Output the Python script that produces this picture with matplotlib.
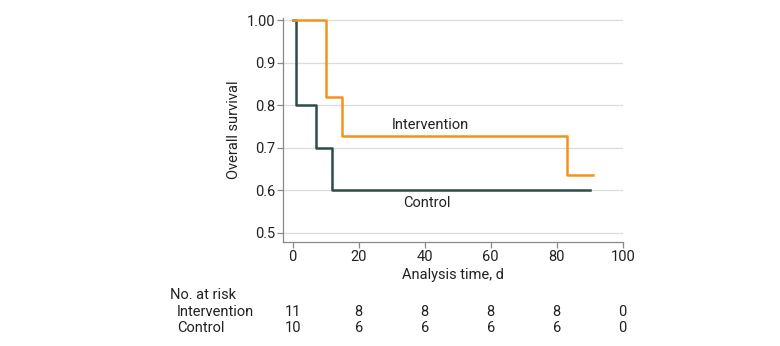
import matplotlib
matplotlib.use("Agg")
import matplotlib.pyplot as plt
import matplotlib.transforms as mtransforms

plt.rcParams['font.family'] = ['Roboto', 'DejaVu Sans']

# Kaplan-Meier steps
int_time = [0, 10, 15, 83, 91]
int_surv = [1.0, 0.818, 0.727, 0.636, 0.636]
ctl_time = [0, 1, 7, 12, 90]
ctl_surv = [1.0, 0.8, 0.7, 0.6, 0.6]

risk_times = [0, 20, 40, 60, 80, 100]
risk_int = [11, 8, 8, 8, 8, 0]
risk_ctl = [10, 6, 6, 6, 6, 0]

orange = '#F5921E'
dark = '#2C4C4A'
txt = '#222222'
fs = 10.5

fig = plt.figure(figsize=(7.8, 3.46), dpi=100)
ax = fig.add_axes([283.3/780, 1-242/346, (622.7-283.3)/780, (242-18)/346])
ax.set_xlim(-2.85, 100)
ax.set_ylim(0.478, 1.005)

for y in [0.5, 0.6, 0.7, 0.8, 0.9, 1.0]:
    ax.axhline(y, color='#dcdcdc', lw=0.9, zorder=0)

ax.step(int_time, int_surv, where='post', color=orange, lw=1.8, zorder=3)
ax.step(ctl_time, ctl_surv, where='post', color=dark, lw=1.8, zorder=2)

ax.text(41.6, 0.753, 'Intervention', ha='center', va='center', fontsize=fs, color=txt)
ax.text(40.6, 0.570, 'Control', ha='center', va='center', fontsize=fs, color=txt)

for s in ['top', 'right']:
    ax.spines[s].set_visible(False)
for s in ['left', 'bottom']:
    ax.spines[s].set_color('#888888')
    ax.spines[s].set_linewidth(0.9)

ax.set_xticks([0, 20, 40, 60, 80, 100])
ax.set_yticks([0.5, 0.6, 0.7, 0.8, 0.9, 1.0])
ax.set_yticklabels(['0.5', '0.6', '0.7', '0.8', '0.9', '1.00'])
ax.tick_params(axis='both', colors='#888888', labelcolor=txt, labelsize=fs, length=4, width=0.9, pad=2)
ax.set_xlabel('Analysis time, d', fontsize=fs, color=txt, labelpad=3)
ax.set_ylabel('Overall survival', fontsize=fs, color=txt, labelpad=4)

# risk table
fig.text(170/780, 1-295/346, 'No. at risk', fontsize=fs, color=txt, va='center', ha='left')
fig.text(177/780, 1-311.5/346, 'Intervention', fontsize=fs, color=txt, va='center', ha='left')
fig.text(177/780, 1-327.5/346, 'Control', fontsize=fs, color=txt, va='center', ha='left')
trans = mtransforms.blended_transform_factory(ax.transData, fig.transFigure)
for t, a, b in zip(risk_times, risk_int, risk_ctl):
    ax.text(t, 1-311.5/346, str(a), transform=trans, fontsize=fs, color=txt,
            ha='center', va='center', clip_on=False)
    ax.text(t, 1-327.5/346, str(b), transform=trans, fontsize=fs, color=txt,
            ha='center', va='center', clip_on=False)

fig.savefig('out.png', dpi=100)
